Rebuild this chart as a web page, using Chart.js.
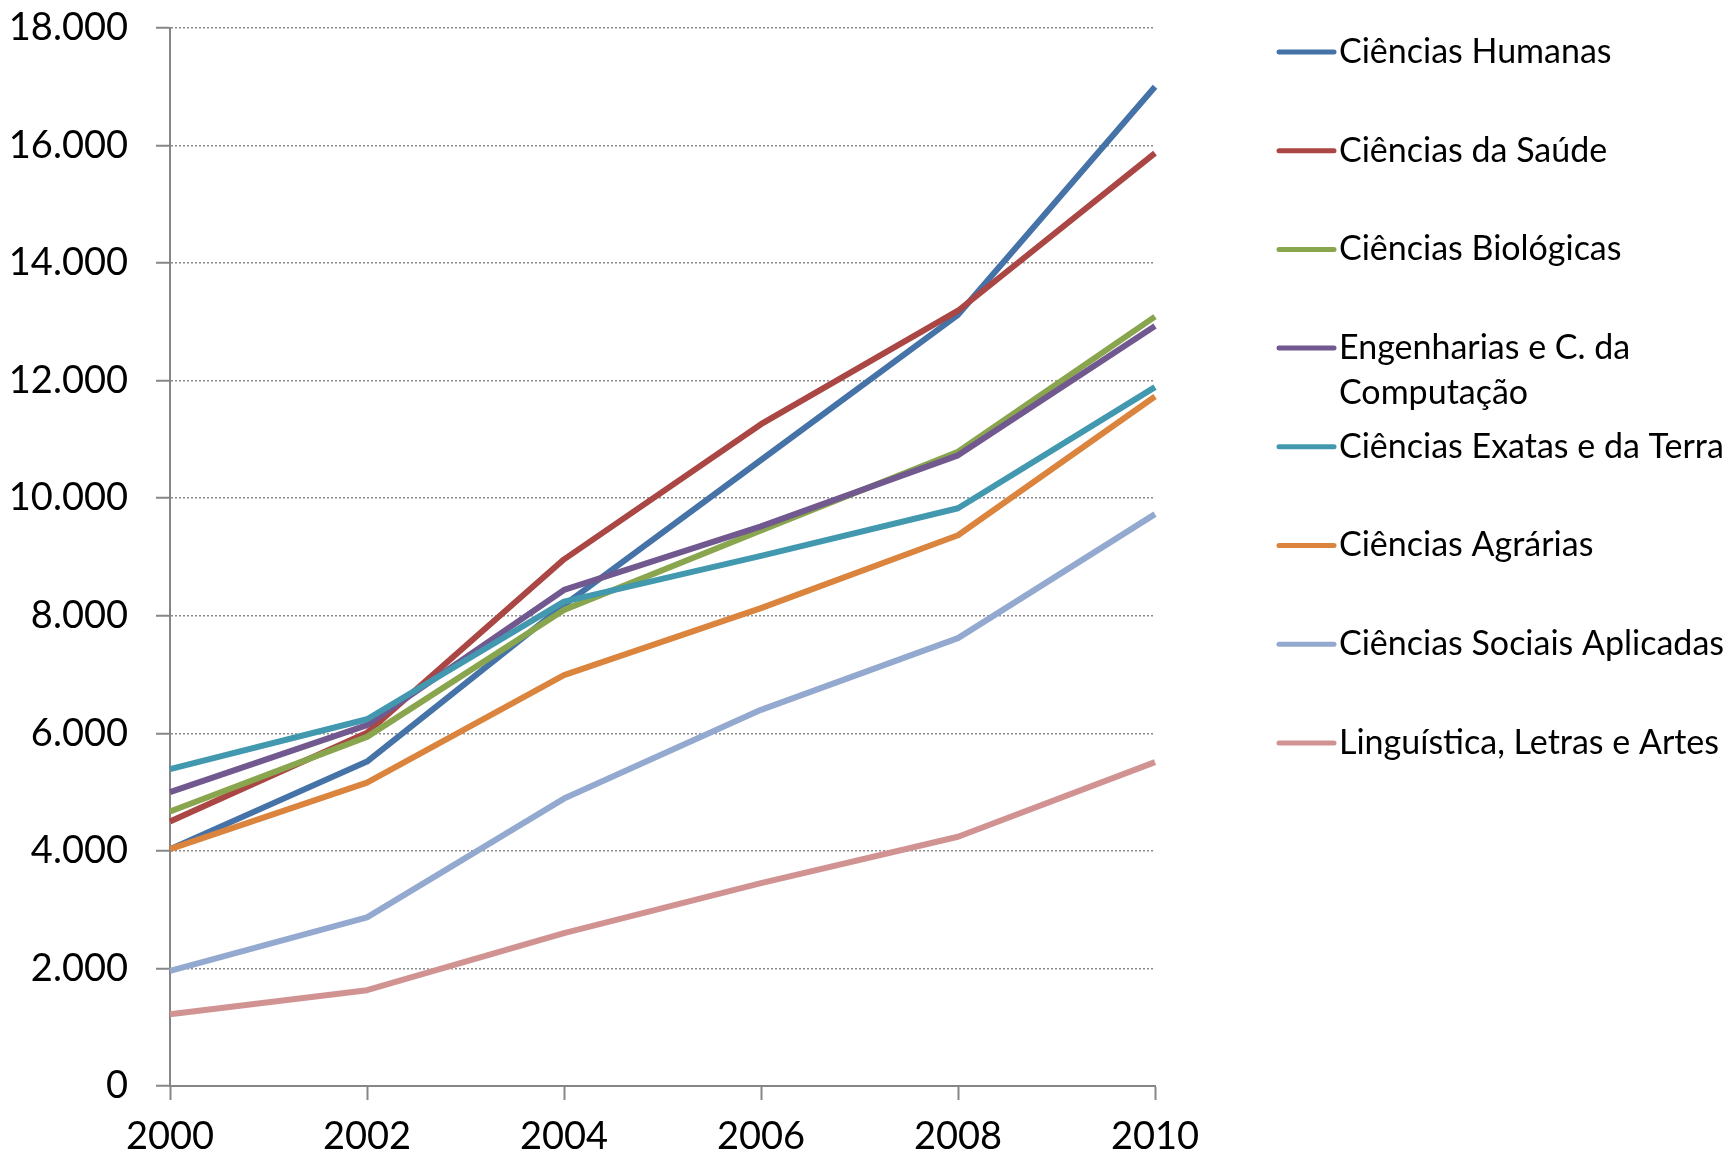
<!DOCTYPE html>
<html>
<head>
<meta charset="utf-8">
<script src="https://cdn.jsdelivr.net/npm/chart.js@4.4.1/dist/chart.umd.min.js"></script>
<style>
  body { margin: 0; background: #fff; }
  #wrap { width: 1732px; height: 1159px; }
</style>
</head>
<body>
<div id="wrap"><canvas id="myChart" width="1732" height="1159"></canvas></div>
<script>
const years = ["2000", "2002", "2004", "2006", "2008", "2010"];

const seriesNames = [
  "Ciências Humanas",
  "Ciências da Saúde",
  "Ciências Biológicas",
  "Engenharias e C. da Computação",
  "Ciências Exatas e da Terra",
  "Ciências Agrárias",
  "Ciências Sociais Aplicadas",
  "Linguística, Letras e Artes",
];

const humanas = [4030, 5520, 8180, 10650, 13120, 17000];
const saude = [4500, 6010, 8960, 11260, 13190, 15870];
const biologicas = [4670, 5940, 8100, 9450, 10790, 13090];
const engenharias = [5000, 6140, 8440, 9520, 10730, 12930];
const exatas = [5390, 6240, 8240, 9020, 9830, 11890];
const agrarias = [4030, 5160, 6990, 8130, 9370, 11730];
const sociais = [1960, 2870, 4890, 6400, 7620, 9730];
const linguistica = [1220, 1630, 2600, 3450, 4240, 5510];

const seriesValues = [humanas, saude, biologicas, engenharias, exatas, agrarias, sociais, linguistica];

const colors = ["#4572A7", "#AA4643", "#89A54E", "#71588F", "#4198AF", "#DB843D", "#93A9CF", "#D19392"];

const yTicks = [0, 2000, 4000, 6000, 8000, 10000, 12000, 14000, 16000, 18000];

const fontFamily = "Lato, 'Open Sans', sans-serif";
const tickSize = 38;

function formatNumber(v) {
  return String(v).replace(/\B(?=(\d{3})+(?!\d))/g, ".");
}

// legenda desenhada a mao, com quebra de linha
const sideLegend = {
  id: "sideLegend",
  afterDraw(chart) {
    const c = chart.ctx;
    const x0 = 1279;
    const x1 = 1334;
    const textX = 1339;
    const firstY = 52;
    const step = 98.7;
    const lineHeight = 45;
    c.save();
    c.font = "34px " + fontFamily;
    c.textBaseline = "middle";
    c.textAlign = "left";
    chart.data.datasets.forEach((ds, i) => {
      const y = firstY + i * step;
      c.strokeStyle = ds.borderColor;
      c.lineWidth = 5;
      c.lineCap = "round";
      c.setLineDash([]);
      c.beginPath();
      c.moveTo(x0, y);
      c.lineTo(x1, y);
      c.stroke();

      // quebra simples por palavras
      const words = ds.label.split(" ");
      const lines = [];
      let current = "";
      words.forEach((w) => {
        const test = current ? current + " " + w : w;
        if (c.measureText(test).width > 420 && current) {
          lines.push(current);
          current = w;
        } else {
          current = test;
        }
      });
      lines.push(current);
      c.fillStyle = "#000";
      lines.forEach((line, k) => {
        c.fillText(line, textX, y + k * lineHeight);
      });
    });
    c.restore();
  },
};

const ctx = document.getElementById("myChart");

new Chart(ctx, {
  type: "line",
  data: {
    labels: years,
    datasets: seriesNames.map((name, i) => ({
      label: name,
      data: seriesValues[i],
      borderColor: colors[i],
      backgroundColor: colors[i],
      borderWidth: 6,
      borderJoinStyle: "round",
      pointRadius: 0,
      tension: 0,
      fill: false,
      order: -i,
    })),
  },
  options: {
    responsive: false,
    animation: false,
    layout: {
      padding: { top: 28, right: 577, left: 0, bottom: 0 },
    },
    plugins: {
      legend: { display: false },
      tooltip: { enabled: false },
    },
    scales: {
      x: {
        type: "category",
        offset: false,
        grid: {
          drawOnChartArea: false,
          drawTicks: true,
          tickLength: 14,
          tickColor: "#868686",
          tickWidth: 2,
        },
        border: { display: true, color: "#868686", width: 2 },
        ticks: {
          color: "#000",
          padding: 14,
          maxRotation: 0,
          font: { family: fontFamily, size: tickSize },
        },
        afterFit(scale) {
          scale.height = 73;
        },
      },
      y: {
        min: 0,
        max: 18000,
        afterBuildTicks(scale) {
          scale.ticks = yTicks.map((v) => ({ value: v }));
        },
        grid: {
          color: "#8a8a8a",
          lineWidth: 1.5,
          drawTicks: true,
          tickLength: 14,
          tickColor: "#868686",
          tickWidth: 2,
          tickBorderDash: [],
        },
        border: { display: true, color: "#868686", width: 2, dash: [2, 2] },
        ticks: {
          color: "#000",
          padding: 28,
          font: { family: fontFamily, size: tickSize },
          callback: (v) => formatNumber(v),
        },
        afterFit(scale) {
          scale.width = 170;
          // o padding dos rotulos empurrava a area do grafico para baixo
          scale.paddingTop = 0;
          scale.paddingBottom = 0;
        },
      },
    },
  },
  plugins: [sideLegend],
});
</script>
</body>
</html>
